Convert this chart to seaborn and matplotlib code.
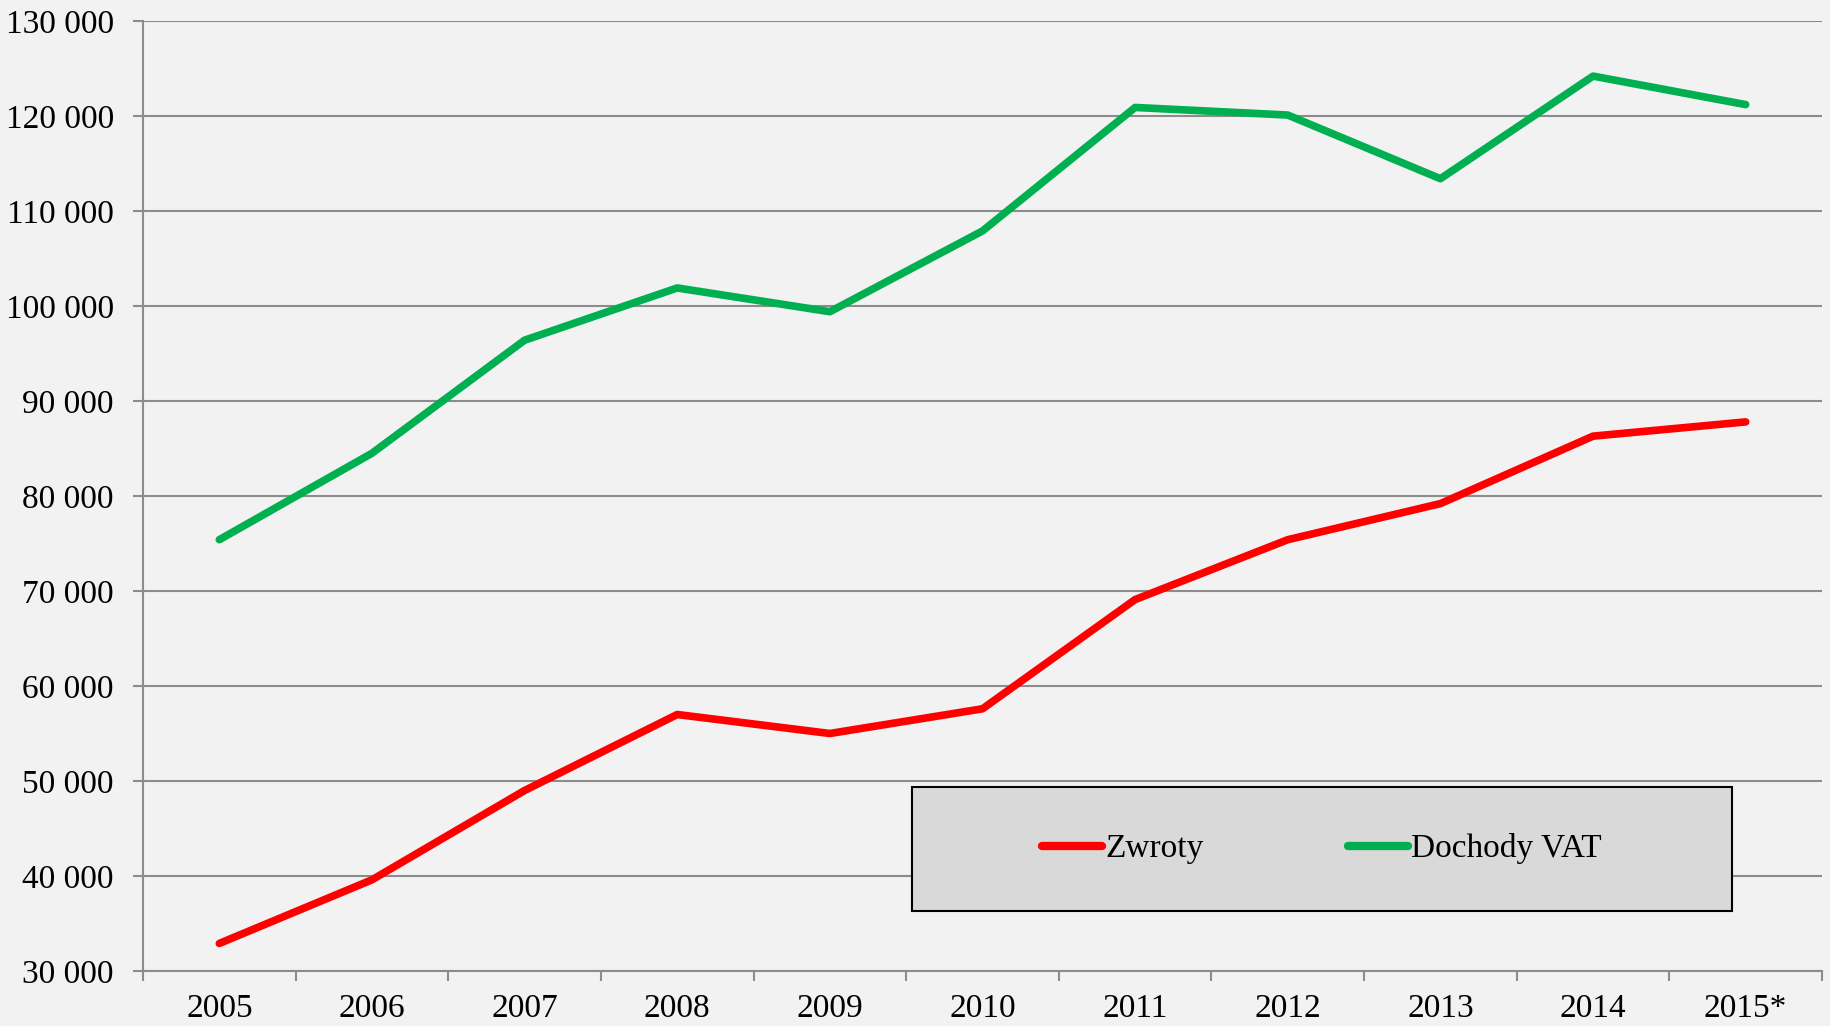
import matplotlib
matplotlib.use("Agg")
import matplotlib.pyplot as plt
import seaborn as sns
import pandas as pd
from matplotlib.ticker import FuncFormatter, FixedLocator
from matplotlib.patches import Rectangle

years = ["2005", "2006", "2007", "2008", "2009", "2010", "2011", "2012", "2013", "2014", "2015*"]
zwroty = [32900, 39600, 49000, 57000, 55000, 57600, 69100, 75400, 79200, 86300, 87800]
dochody_vat = [75400, 84500, 96400, 101900, 99400, 107900, 120900, 120100, 113400, 124200, 121200]
series_names = ["Zwroty", "Dochody VAT"]
colors = ["#ff0000", "#00b050"]

df = pd.DataFrame({
    "x": list(range(len(years))) * 2,
    "value": zwroty + dochody_vat,
    "series": [series_names[0]] * len(years) + [series_names[1]] * len(years),
})

sns.set_theme(style="white")
plt.rcParams["font.family"] = ["Liberation Serif", "DejaVu Serif"]
plt.rcParams["text.color"] = "black"
FS = 24

fig = plt.figure(figsize=(18.31, 10.26), dpi=100, facecolor="#f2f2f2")
ax = fig.add_axes([143 / 1831, 1 - 971 / 1026, (1822 - 143) / 1831, (971 - 21) / 1026])
ax.set_facecolor("#f2f2f2")

sns.lineplot(data=df, x="x", y="value", hue="series", hue_order=series_names,
             palette=colors, linewidth=5.5, ax=ax, legend=True,
             solid_capstyle="round", solid_joinstyle="round")

ax.set_xlim(-0.5, len(years) - 0.5)
ax.set_ylim(30000, 130000)
ax.set_yticks(range(30000, 130001, 10000))
ax.yaxis.set_major_formatter(FuncFormatter(lambda v, p: f"{int(v):,}".replace(",", " ")))
ax.grid(axis="y", color="#8c8c8c", linewidth=1.5)
ax.set_axisbelow(True)

ax.set_xticks(range(len(years)))
ax.set_xticklabels(years)
ax.xaxis.set_minor_locator(FixedLocator([i - 0.5 for i in range(len(years) + 1)]))
ax.tick_params(axis="x", which="major", length=0, pad=16, labelsize=FS, labelcolor="black")
ax.tick_params(axis="x", which="minor", length=7, width=1.5, color="#8c8c8c", bottom=True)
ax.tick_params(axis="y", which="major", length=7, width=1.5, color="#8c8c8c", pad=14,
               labelsize=FS, left=True, labelcolor="black")
ax.set_xlabel("")
ax.set_ylabel("")

for s in ["top", "right"]:
    ax.spines[s].set_visible(False)
for s in ["left", "bottom"]:
    ax.spines[s].set_color("#8c8c8c")
    ax.spines[s].set_linewidth(1.5)

# legend box
bx0 = (912 - 143) / 1679
bx1 = (1732 - 143) / 1679
by0 = (971 - 911) / 950
by1 = (971 - 787) / 950
rect = Rectangle((bx0, by0), bx1 - bx0, by1 - by0, transform=ax.transAxes,
                 facecolor="#d9d9d9", edgecolor="black", linewidth=1.5, zorder=5)
ax.add_patch(rect)
handles, labels = ax.get_legend_handles_labels()
leg = ax.legend(handles, labels, loc="center", bbox_to_anchor=((bx0 + bx1) / 2, (by0 + by1) / 2),
                ncol=2, frameon=False, fontsize=FS, handlelength=1.8, handletextpad=0.1,
                columnspacing=4.3, labelcolor="black")
leg.set_zorder(6)
for line in leg.get_lines():
    line.set_linewidth(6)
    line.set_solid_capstyle("round")

fig.savefig("out.png", dpi=100, facecolor="#f2f2f2")
